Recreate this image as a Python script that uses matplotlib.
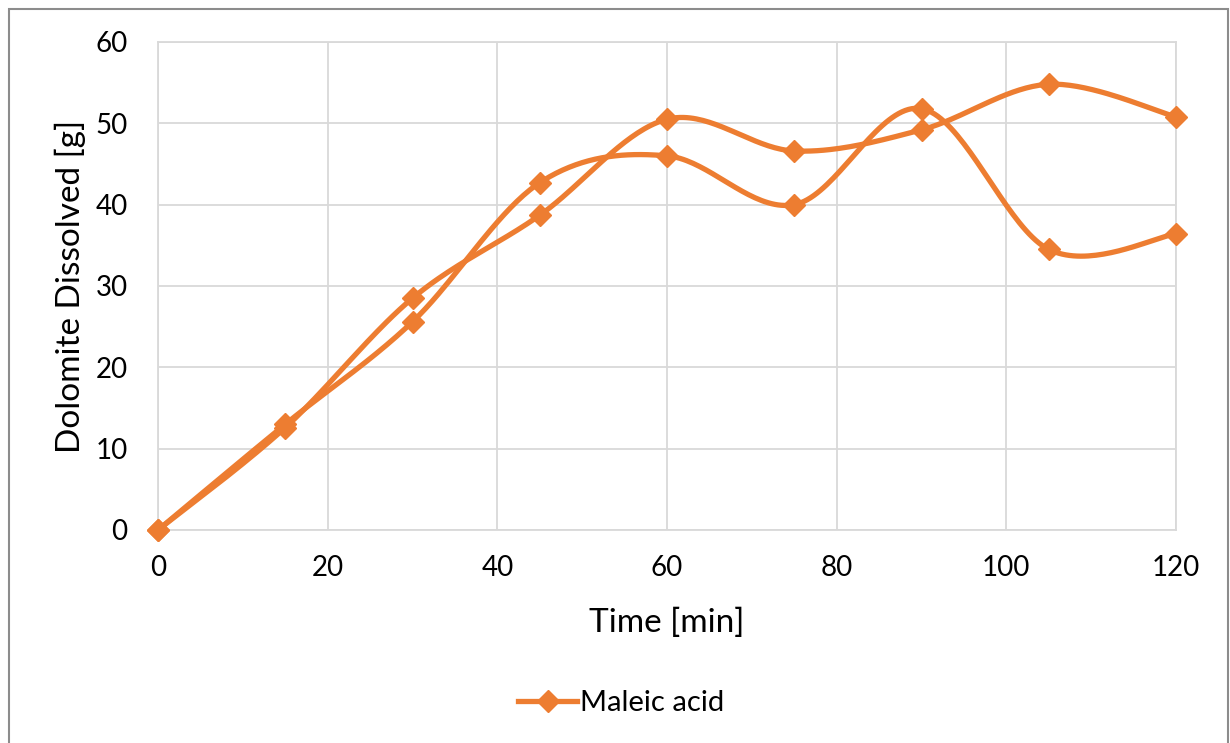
import numpy as np
import matplotlib
matplotlib.use("Agg")
import matplotlib.pyplot as plt
from matplotlib.lines import Line2D
from matplotlib.patches import Rectangle

plt.rcParams['font.family'] = ['Lato', 'DejaVu Sans']

time_min = [0, 15, 30, 45, 60, 75, 90, 105, 120]
series_a = [0, 13.0, 25.6, 42.7, 46.0, 40.0, 51.8, 34.5, 36.4]
series_b = [0, 12.6, 28.5, 38.7, 50.5, 46.6, 49.2, 54.8, 50.8]
legend_label = "Maleic acid"
x_ticks = [0, 20, 40, 60, 80, 100, 120]
y_ticks = [0, 10, 20, 30, 40, 50, 60]

ORANGE = '#ED7D31'
GRID = '#D9D9D9'


def smooth(x, y, n=40):
    x = np.asarray(x, float)
    y = np.asarray(y, float)
    xs, ys = [], []
    m = len(x)
    for i in range(m - 1):
        p0 = np.array([x[max(i - 1, 0)], y[max(i - 1, 0)]])
        p1 = np.array([x[i], y[i]])
        p2 = np.array([x[i + 1], y[i + 1]])
        p3 = np.array([x[min(i + 2, m - 1)], y[min(i + 2, m - 1)]])
        c1 = p1 + (p2 - p0) / 6.0
        c2 = p2 - (p3 - p1) / 6.0
        t = np.linspace(0, 1, n)[:, None]
        pts = ((1 - t) ** 3) * p1 + 3 * ((1 - t) ** 2) * t * c1 + 3 * (1 - t) * t ** 2 * c2 + t ** 3 * p2
        if i > 0:
            pts = pts[1:]
        xs.extend(pts[:, 0])
        ys.extend(pts[:, 1])
    return np.array(xs), np.array(ys)


fig = plt.figure(figsize=(12.3, 7.43), dpi=100)
fig.patches.append(Rectangle((0.007, -0.01), 0.991, 0.998, transform=fig.transFigure,
                             fill=False, edgecolor='#8C8C8C', linewidth=1.5))
ax = fig.add_axes([0.1285, 0.2867, 0.8276, 0.6568])

for s in (series_a, series_b):
    sx, sy = smooth(time_min, s)
    ax.plot(sx, sy, color=ORANGE, lw=3.8, solid_capstyle='round', zorder=3, clip_on=False)
    ax.plot(time_min, s, linestyle='none', marker='D', ms=11, color=ORANGE, zorder=4, clip_on=False)

ax.set_xlim(0, 120)
ax.set_ylim(0, 60)
ax.set_xticks(x_ticks)
ax.set_yticks(y_ticks)
ax.grid(True, color=GRID, lw=1.3)
ax.set_axisbelow(True)
for sp in ax.spines.values():
    sp.set_color(GRID)
    sp.set_linewidth(1.3)
ax.tick_params(length=0, labelsize=20, colors='black')
ax.tick_params(axis='x', pad=18)
ax.tick_params(axis='y', pad=22)
ax.set_xlabel("Time [min]", fontsize=24, labelpad=19)
ax.set_ylabel("Dolomite Dissolved [g]", fontsize=24, labelpad=7)

handle = Line2D([], [], color=ORANGE, lw=3.8, marker='D', ms=11)
fig.legend([handle], [legend_label], loc='center', bbox_to_anchor=(0.505, 0.054),
           frameon=False, fontsize=21, handlelength=2.0, handletextpad=0.1)

fig.savefig("out.png", dpi=100)
